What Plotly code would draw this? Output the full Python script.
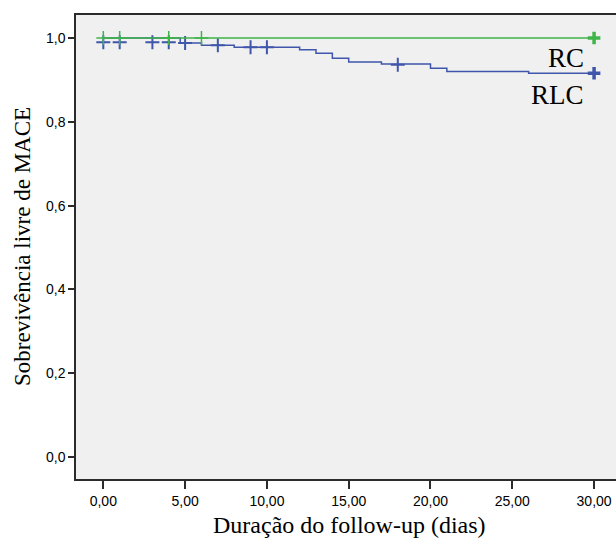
import plotly.graph_objects as go

# Kaplan-Meier step data
rc_t = [0, 30]
rc_s = [1.0, 1.0]
rc_cens_t = [0, 1, 4, 6]
rc_cens_s = [1.0, 1.0, 1.0, 1.0]

rlc_t = [0, 4.7, 6, 8, 12, 13, 14, 15, 17, 20, 21, 26, 30]
rlc_s = [1.0, 0.988, 0.983, 0.978, 0.972, 0.964, 0.952, 0.943, 0.938, 0.928, 0.920, 0.916, 0.916]
rlc_cens_t = [0, 1, 3, 4, 5, 7, 9, 10, 18]
rlc_cens_s = [0.990, 0.990, 0.990, 0.990, 0.988, 0.983, 0.978, 0.978, 0.936]

end_t = 30
x_ticks = [0, 5, 10, 15, 20, 25, 30]
y_ticks = [0, 0.2, 0.4, 0.6, 0.8, 1.0]

GREEN = "#3fb549"
BLUE = "#3f56ab"
AX = "#2b2b2b"

fig = go.Figure()
fig.add_trace(go.Scatter(x=rlc_t, y=rlc_s, mode="lines", line_shape="hv",
                         line=dict(color=BLUE, width=1.5), showlegend=False))
fig.add_trace(go.Scatter(x=rlc_cens_t, y=rlc_cens_s, mode="markers",
                         marker=dict(symbol="cross-thin", size=10, line=dict(color=BLUE, width=2)),
                         showlegend=False))
fig.add_trace(go.Scatter(x=[end_t], y=[rlc_s[-1]], mode="markers",
                         marker=dict(symbol="cross-thin", size=9, line=dict(color=BLUE, width=3.5)),
                         showlegend=False))
fig.add_trace(go.Scatter(x=rc_t, y=rc_s, mode="lines", line_shape="hv",
                         line=dict(color=GREEN, width=1.5), showlegend=False))
fig.add_trace(go.Scatter(x=rc_cens_t, y=rc_cens_s, mode="markers",
                         marker=dict(symbol="cross-thin", size=10, line=dict(color=GREEN, width=1.5)),
                         showlegend=False))
fig.add_trace(go.Scatter(x=[end_t], y=[rc_s[-1]], mode="markers",
                         marker=dict(symbol="cross-thin", size=9, line=dict(color=GREEN, width=3.5)),
                         showlegend=False))

fig.add_annotation(x=29.5, y=0.953, text="RC", showarrow=False, xanchor="right", yanchor="middle",
                   font=dict(family="Liberation Serif", size=27, color="black"))
fig.add_annotation(x=29.5, y=0.863, text="RLC", showarrow=False, xanchor="right", yanchor="middle",
                   font=dict(family="Liberation Serif", size=27, color="black"))

# axis titles
fig.add_annotation(xref="paper", yref="paper", x=0.5056, y=0, yshift=-46,
                   text="Duração do follow-up (dias)", showarrow=False,
                   xanchor="center", yanchor="middle",
                   font=dict(family="Liberation Serif", size=24, color="black"))
fig.add_annotation(xref="paper", yref="paper", x=0, y=0.5, xshift=-54,
                   text="Sobrevivência livre de MACE", showarrow=False, textangle=-90,
                   xanchor="center", yanchor="middle",
                   font=dict(family="Liberation Serif", size=23, color="black"))

fig.update_layout(
    width=616, height=540,
    margin=dict(l=76, r=0, t=15, b=61),
    paper_bgcolor="white", plot_bgcolor="#f0f0f0",
    separators=",.",
    font=dict(family="Liberation Sans", size=14, color="black"),
)
fig.update_xaxes(range=[-1.67, 31.34], tickvals=x_ticks, tickformat=".2f", automargin=False,
                 showgrid=False, zeroline=False, showline=True, linecolor=AX, linewidth=1.5,
                 mirror=True, ticks="outside", ticklen=8, tickwidth=1.5, tickcolor=AX)
fig.update_yaxes(range=[-0.0525, 1.055], tickvals=y_ticks, tickformat=".1f", automargin=False,
                 showgrid=False, zeroline=False, showline=True, linecolor=AX, linewidth=1.5,
                 ticks="outside", ticklen=6, tickwidth=1.5, tickcolor=AX)

# remove the page's default body margin so the 616x540 figure fills the window
fig.write_html("out.html", config={"displayModeBar": False},
               post_script="document.body.style.margin='0';document.body.style.overflow='hidden';")
